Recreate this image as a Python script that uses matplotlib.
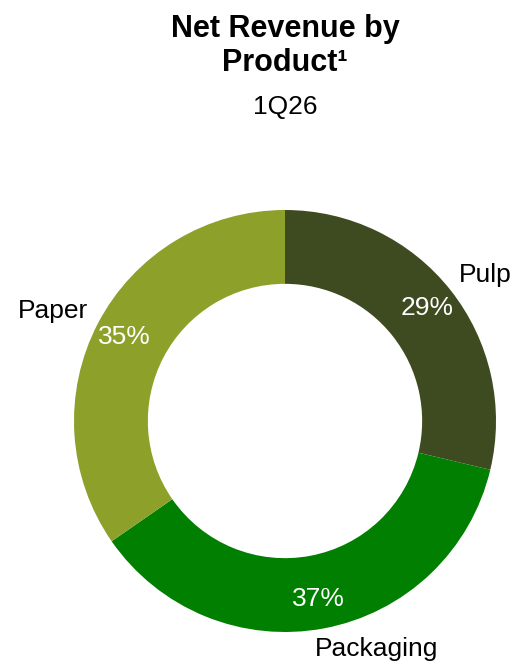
import numpy as np
import matplotlib.pyplot as plt

plt.rcParams['font.family'] = ['Liberation Sans', 'DejaVu Sans']

# data
products = ["Pulp", "Packaging", "Paper"]
shares = [29, 37, 35]
colors = ["#3e4a20", "#007f00", "#8da02a"]

# where the category names sit (pixel coords, y up)
label_pos = [(485, 389), (377, 15), (53, 353)]

W, H = 516, 664
fig = plt.figure(figsize=(W / 100, H / 100), dpi=100)
ax = fig.add_axes([0, 0, 1, 1])

wedges, texts, autotexts = ax.pie(
    shares, labels=products, colors=colors, startangle=90, counterclock=False,
    center=(285, 243), radius=211, autopct='%1.0f%%', pctdistance=0.86,
    wedgeprops=dict(width=211 * 0.35, linewidth=0),
    textprops=dict(fontsize=19))

# pie resets the limits, so set them afterwards
ax.set_xlim(0, W)
ax.set_ylim(0, H)
ax.set_aspect('equal')
ax.axis('off')

for t, v in zip(autotexts, shares):
    t.set_text(f"{v}%")
    t.set_color("white")

for t, p in zip(texts, label_pos):
    t.set_position(p)
    t.set_ha("center")
    t.set_va("center")

ax.text(285, H - 37, "Net Revenue by", ha="center", va="baseline",
        fontsize=22, fontweight="bold")
ax.text(285, H - 71, "Product\u00b9", ha="center", va="baseline",
        fontsize=22, fontweight="bold")
ax.text(285, H - 114, "1Q26", ha="center", va="baseline", fontsize=19)

fig.savefig("out.png", dpi=100)
